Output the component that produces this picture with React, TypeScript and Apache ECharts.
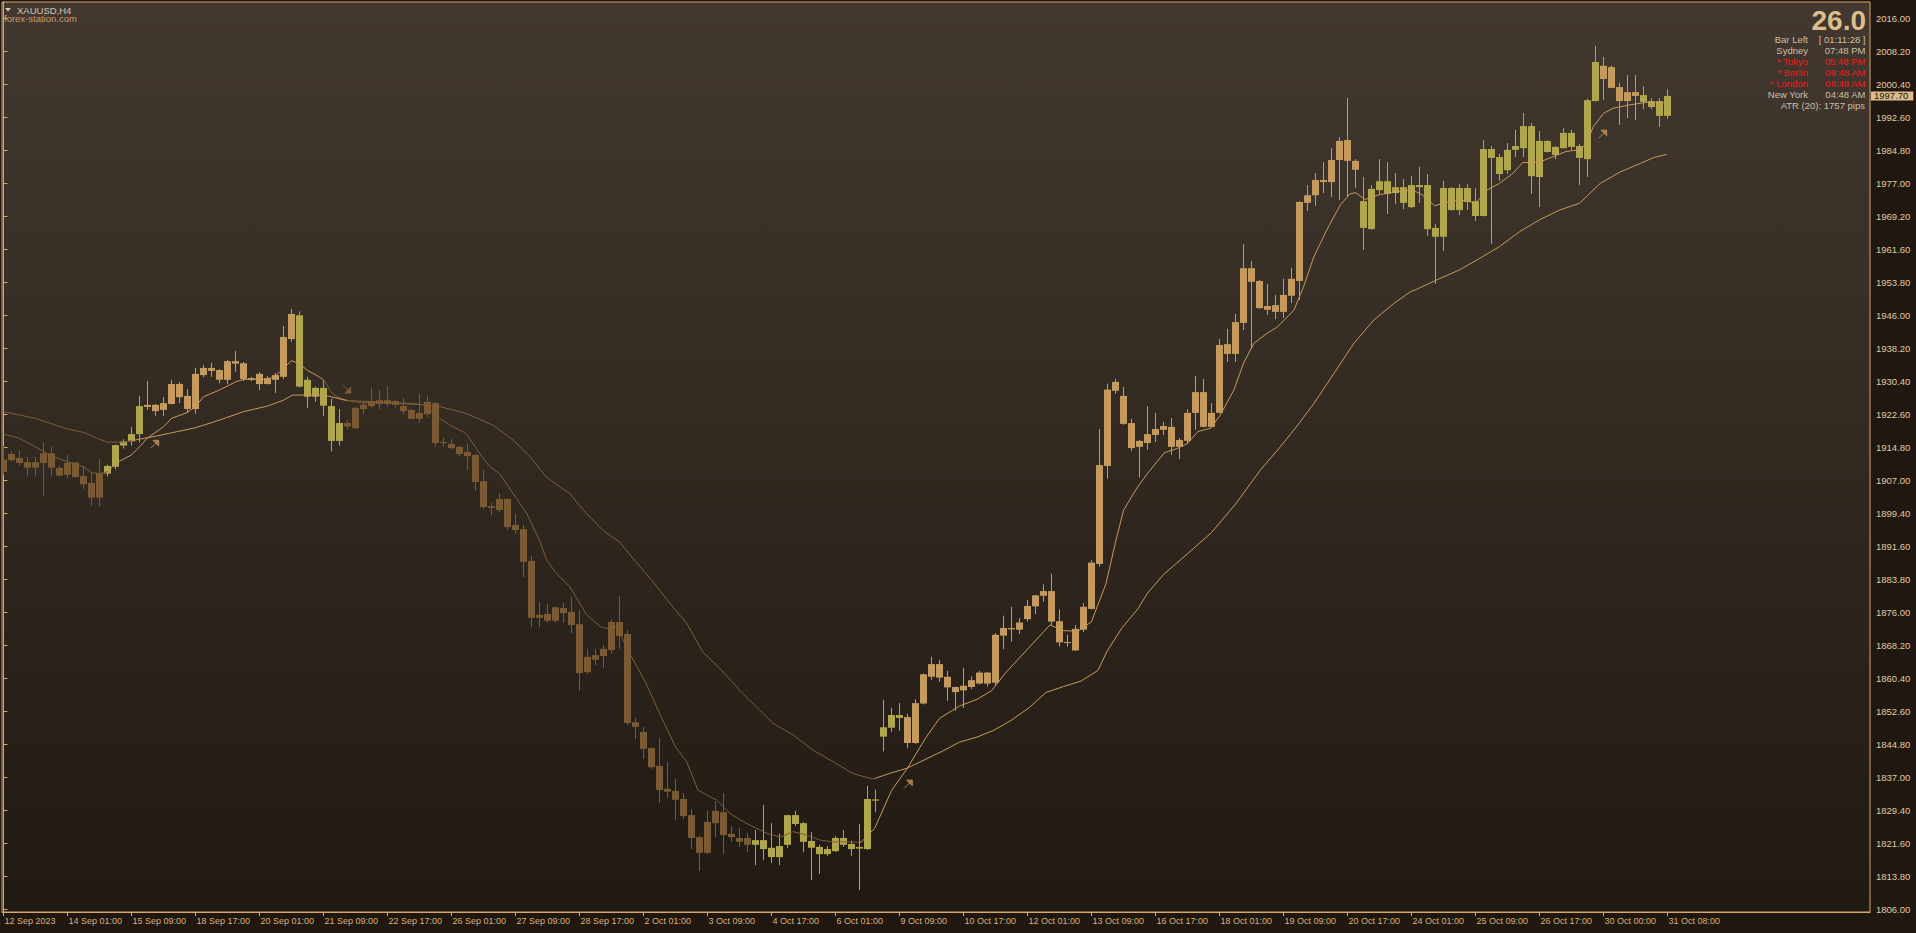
import React, { useEffect, useRef } from "react";
import * as echarts from "echarts";

// ---------- data ----------
const xLabels = [
  "12 Sep 2023", "14 Sep 01:00", "15 Sep 09:00", "18 Sep 17:00", "20 Sep 01:00", "21 Sep 09:00",
  "22 Sep 17:00", "26 Sep 01:00", "27 Sep 09:00", "28 Sep 17:00", "2 Oct 01:00", "3 Oct 09:00",
  "4 Oct 17:00", "6 Oct 01:00", "9 Oct 09:00", "10 Oct 17:00", "12 Oct 01:00", "13 Oct 09:00",
  "16 Oct 17:00", "18 Oct 01:00", "19 Oct 09:00", "20 Oct 17:00", "24 Oct 01:00", "25 Oct 09:00",
  "26 Oct 17:00", "30 Oct 00:00", "31 Oct 08:00",
];
const barsPerLabel = 8;

const yLabels = [
  "1806.00", "1813.80", "1821.60", "1829.40", "1837.00", "1844.80", "1852.60", "1860.40",
  "1868.20", "1876.00", "1883.80", "1891.60", "1899.40", "1907.00", "1914.80", "1922.60",
  "1930.40", "1938.20", "1946.00", "1953.80", "1961.60", "1969.20", "1977.00", "1984.80",
  "1992.60", "2000.40", "2008.20", "2016.00",
];
const yLow = 1806;
const yHigh = 2016;

// [open, high, low, close]
const candles: number[][] = [
  [1912.0, 1915.2, 1908.4, 1909.1], [1911.9, 1913.9, 1911.6, 1913.3], [1912.4, 1914.1, 1910.5, 1911.2],
  [1911.4, 1912.6, 1908.2, 1910.1], [1910.1, 1912.6, 1908.2, 1911.4], [1911.2, 1916.0, 1903.3, 1913.5],
  [1913.5, 1915.0, 1908.2, 1910.1], [1910.0, 1910.5, 1908.0, 1908.2], [1908.4, 1913.1, 1907.6, 1911.2],
  [1911.3, 1911.4, 1907.8, 1907.9], [1908.1, 1910.3, 1905.1, 1906.2], [1906.5, 1908.8, 1901.1, 1903.0],
  [1903.0, 1912.1, 1900.9, 1908.8], [1908.7, 1910.8, 1908.0, 1910.5], [1910.3, 1915.5, 1909.7, 1915.4],
  [1915.3, 1916.8, 1914.6, 1916.3], [1916.3, 1919.7, 1915.3, 1918.0], [1918.0, 1927.0, 1916.0, 1924.6],
  [1924.4, 1930.5, 1923.7, 1924.9], [1924.9, 1925.1, 1922.3, 1923.4], [1923.7, 1926.7, 1922.3, 1925.3],
  [1925.1, 1930.8, 1925.0, 1929.8], [1929.8, 1930.3, 1925.3, 1926.7], [1927.0, 1928.6, 1923.0, 1923.9],
  [1923.9, 1933.6, 1922.8, 1932.2], [1931.9, 1934.3, 1931.4, 1933.6], [1933.6, 1934.8, 1931.5, 1932.9],
  [1933.1, 1933.3, 1930.0, 1930.8], [1930.8, 1935.5, 1929.8, 1935.2], [1935.2, 1937.6, 1932.7, 1934.6],
  [1934.7, 1935.0, 1930.5, 1931.0], [1931.2, 1931.5, 1930.5, 1930.8], [1929.8, 1932.6, 1928.4, 1932.2],
  [1931.2, 1931.7, 1929.7, 1929.8], [1930.8, 1932.4, 1927.7, 1931.9], [1931.5, 1943.5, 1931.0, 1940.9],
  [1940.4, 1947.5, 1939.8, 1946.3], [1946.0, 1946.9, 1929.0, 1929.2], [1930.8, 1931.5, 1924.1, 1926.8],
  [1926.8, 1929.2, 1925.6, 1928.9], [1928.9, 1930.8, 1922.3, 1924.7], [1924.6, 1926.3, 1913.9, 1916.4],
  [1916.4, 1923.9, 1915.3, 1920.6], [1920.6, 1921.3, 1919.2, 1919.8], [1919.4, 1924.3, 1919.2, 1924.2],
  [1923.9, 1925.6, 1922.6, 1924.9], [1924.6, 1928.9, 1924.2, 1925.7], [1925.1, 1928.4, 1923.9, 1926.0],
  [1926.0, 1929.3, 1924.5, 1925.1], [1925.8, 1926.0, 1924.2, 1924.9], [1924.6, 1926.5, 1922.7, 1923.4],
  [1923.7, 1923.9, 1921.5, 1921.6], [1921.6, 1927.5, 1920.6, 1923.0], [1922.7, 1927.0, 1922.0, 1925.6],
  [1925.3, 1925.6, 1915.0, 1915.9], [1916.0, 1917.3, 1915.0, 1916.1], [1915.7, 1916.8, 1914.3, 1914.7],
  [1915.0, 1915.2, 1912.8, 1913.3], [1913.8, 1915.7, 1909.5, 1912.8], [1913.1, 1913.3, 1904.6, 1906.7],
  [1906.9, 1909.5, 1900.4, 1900.8], [1900.6, 1901.8, 1898.9, 1901.0], [1900.1, 1904.1, 1899.6, 1902.7],
  [1902.7, 1902.8, 1895.4, 1896.1], [1896.6, 1899.2, 1894.5, 1895.4], [1895.6, 1896.6, 1884.3, 1887.9],
  [1888.1, 1889.3, 1872.5, 1874.7], [1874.7, 1878.4, 1872.5, 1875.4], [1875.6, 1878.0, 1873.5, 1874.0],
  [1874.0, 1877.3, 1873.5, 1877.2], [1877.0, 1878.2, 1873.5, 1875.8], [1876.1, 1879.6, 1871.1, 1873.0],
  [1873.2, 1876.5, 1857.5, 1861.7], [1861.9, 1867.4, 1861.5, 1865.5], [1865.9, 1867.4, 1863.6, 1864.8],
  [1865.7, 1868.3, 1862.9, 1867.4], [1867.1, 1874.2, 1866.2, 1873.7], [1873.7, 1879.8, 1867.4, 1870.4],
  [1870.9, 1871.8, 1849.4, 1849.9], [1850.1, 1851.1, 1846.1, 1849.0], [1847.8, 1849.0, 1841.4, 1843.8],
  [1844.0, 1844.1, 1839.1, 1839.5], [1839.8, 1846.4, 1831.1, 1834.1], [1834.4, 1840.7, 1832.2, 1833.7],
  [1833.9, 1836.7, 1827.1, 1831.8], [1832.0, 1833.4, 1827.3, 1828.0], [1828.2, 1829.6, 1820.2, 1822.8],
  [1823.0, 1823.3, 1815.0, 1819.3], [1819.3, 1829.2, 1819.0, 1826.6], [1826.3, 1831.5, 1823.0, 1829.2],
  [1828.9, 1833.4, 1819.0, 1823.5], [1823.8, 1825.6, 1821.9, 1823.0], [1822.8, 1825.2, 1820.7, 1821.9],
  [1821.2, 1824.0, 1819.5, 1822.8], [1822.3, 1824.7, 1816.4, 1821.2], [1820.2, 1830.6, 1817.6, 1822.3],
  [1820.5, 1826.3, 1816.9, 1818.3], [1818.3, 1823.8, 1816.4, 1820.9], [1821.2, 1828.3, 1820.5, 1828.2],
  [1828.2, 1829.2, 1825.6, 1826.1], [1826.3, 1826.6, 1819.5, 1821.9], [1822.1, 1824.2, 1812.9, 1820.5],
  [1820.7, 1821.2, 1814.3, 1819.0], [1819.0, 1820.9, 1818.6, 1820.2], [1819.7, 1823.3, 1819.5, 1822.8],
  [1822.8, 1824.7, 1820.7, 1821.2], [1821.4, 1822.2, 1818.6, 1820.2], [1820.3, 1826.1, 1810.5, 1820.7],
  [1820.2, 1835.1, 1820.0, 1832.0], [1831.9, 1834.2, 1828.9, 1831.6], [1846.7, 1855.4, 1843.2, 1848.9],
  [1848.8, 1853.5, 1847.8, 1851.8], [1851.8, 1854.6, 1848.1, 1851.1], [1851.3, 1852.1, 1844.0, 1845.2],
  [1845.2, 1855.5, 1845.0, 1854.6], [1854.5, 1861.6, 1854.3, 1861.4], [1860.8, 1865.5, 1860.1, 1863.8],
  [1863.8, 1864.8, 1859.6, 1860.6], [1860.8, 1862.2, 1855.1, 1858.3], [1858.4, 1858.5, 1852.8, 1857.2],
  [1857.6, 1862.9, 1853.4, 1858.7], [1858.4, 1860.9, 1857.9, 1860.0], [1859.2, 1862.2, 1859.0, 1861.8],
  [1861.8, 1861.9, 1858.5, 1859.2], [1859.4, 1871.1, 1858.8, 1870.7], [1870.5, 1875.2, 1867.3, 1872.3],
  [1872.3, 1877.3, 1869.1, 1872.0], [1871.9, 1874.6, 1870.9, 1873.6], [1874.4, 1878.9, 1873.8, 1877.5],
  [1877.4, 1880.1, 1875.6, 1880.0], [1879.9, 1882.6, 1878.5, 1881.0], [1881.0, 1885.1, 1873.0, 1873.8],
  [1873.9, 1876.7, 1867.9, 1868.9], [1868.9, 1870.7, 1867.9, 1869.0], [1867.0, 1873.0, 1867.0, 1872.1],
  [1871.9, 1878.2, 1871.3, 1877.3], [1876.8, 1888.3, 1876.7, 1887.7], [1887.4, 1919.2, 1886.8, 1910.7],
  [1910.5, 1929.9, 1907.5, 1928.5], [1928.2, 1931.0, 1927.5, 1930.3], [1927.0, 1929.1, 1920.2, 1920.4],
  [1920.6, 1921.6, 1914.0, 1914.7], [1915.0, 1916.6, 1907.8, 1916.4], [1915.9, 1924.6, 1914.3, 1918.0],
  [1917.8, 1923.0, 1916.1, 1919.2], [1919.0, 1920.9, 1917.8, 1919.9], [1919.7, 1921.8, 1913.1, 1915.0],
  [1915.0, 1917.1, 1912.1, 1916.6], [1916.4, 1923.9, 1915.7, 1923.0], [1923.0, 1931.7, 1919.0, 1927.9],
  [1927.9, 1931.0, 1919.6, 1919.7], [1919.7, 1925.3, 1919.6, 1923.0], [1923.0, 1940.4, 1922.9, 1939.0],
  [1939.2, 1942.8, 1935.0, 1936.9], [1936.9, 1946.3, 1935.0, 1944.4], [1944.2, 1962.8, 1942.5, 1957.1],
  [1957.1, 1958.8, 1938.1, 1953.9], [1954.1, 1954.3, 1947.5, 1947.7], [1947.3, 1953.4, 1946.1, 1948.2],
  [1948.4, 1950.8, 1945.1, 1946.8], [1946.8, 1954.6, 1945.4, 1950.8], [1950.6, 1957.2, 1948.9, 1954.6],
  [1954.1, 1972.9, 1949.6, 1972.7], [1972.5, 1976.7, 1970.6, 1974.3], [1974.3, 1979.5, 1971.8, 1977.9],
  [1977.9, 1982.1, 1974.8, 1977.4], [1977.4, 1985.4, 1973.9, 1982.6], [1982.6, 1988.0, 1973.2, 1987.1],
  [1987.3, 1997.2, 1974.1, 1982.4], [1982.4, 1982.8, 1976.0, 1980.3], [1972.9, 1978.6, 1961.4, 1966.6],
  [1966.3, 1976.7, 1966.2, 1975.8], [1975.5, 1982.8, 1974.6, 1977.6], [1977.6, 1982.1, 1969.9, 1974.6],
  [1974.8, 1979.5, 1972.2, 1976.2], [1976.2, 1978.1, 1971.0, 1972.5], [1971.5, 1978.8, 1971.3, 1976.7],
  [1976.7, 1981.0, 1972.5, 1976.2], [1976.7, 1979.3, 1964.7, 1966.3], [1966.6, 1967.5, 1953.4, 1964.5],
  [1964.5, 1977.7, 1961.2, 1976.0], [1976.0, 1976.2, 1970.7, 1970.8], [1970.8, 1976.9, 1969.6, 1976.0],
  [1976.0, 1976.9, 1970.8, 1972.7], [1972.9, 1976.0, 1968.2, 1969.4], [1969.4, 1987.3, 1969.3, 1985.2],
  [1985.2, 1985.9, 1962.8, 1983.1], [1983.3, 1984.0, 1977.7, 1979.3], [1980.2, 1986.6, 1979.3, 1985.0],
  [1985.0, 1989.7, 1983.3, 1985.9], [1985.4, 1993.7, 1983.3, 1990.6], [1990.6, 1991.3, 1974.6, 1978.8],
  [1978.6, 1989.4, 1971.5, 1987.1], [1987.1, 1987.2, 1984.4, 1984.5], [1983.8, 1985.8, 1982.8, 1985.7],
  [1985.4, 1990.1, 1985.3, 1989.0], [1989.0, 1989.7, 1985.0, 1985.7], [1985.9, 1986.4, 1976.7, 1983.1],
  [1982.8, 1997.0, 1978.6, 1996.7], [1996.5, 2009.5, 1996.4, 2005.7], [2004.8, 2006.9, 1996.7, 2001.7],
  [2004.5, 2004.8, 1999.5, 1999.6], [1999.8, 2000.8, 1990.9, 1996.5], [1996.5, 2002.6, 1992.5, 1998.6],
  [1998.6, 2002.6, 1992.0, 1997.7], [1997.9, 2000.0, 1994.6, 1996.3], [1996.5, 1997.2, 1994.6, 1995.1],
  [1996.5, 1997.2, 1990.4, 1993.0], [1993.0, 1999.3, 1992.3, 1997.7],
];

// trend state runs: D = down (brown), N = neutral (olive), U = up (tan)
const trendRuns: [string, number][] = [
  ["D", 13], ["N", 5], ["U", 19], ["N", 6], ["D", 51], ["N", 19], ["U", 57], ["N", 30], ["U", 5], ["N", 4],
];

// moving averages: [bar index, price]
const fastMA: number[][] = [
  [0, 1918.0], [2, 1917.0], [4, 1915.0], [6, 1912.8], [8, 1911.5], [10, 1910.3], [11, 1908.9], [12, 1908.7],
  [13, 1909.1], [14, 1911.1], [16, 1913.1], [17, 1915.0], [18, 1917.1], [20, 1919.7], [21, 1921.7],
  [23, 1923.1], [24, 1924.5], [25, 1926.8], [27, 1928.4], [29, 1930.3], [30, 1930.9], [33, 1930.9],
  [34, 1931.7], [35, 1933.5], [36, 1935.3], [37, 1934.6], [38, 1933.0], [39, 1932.0], [40.1, 1930.7],
  [40.9, 1928.0], [41.7, 1926.8], [42.9, 1926.0],
  [44.6, 1925.4], [47, 1925.4], [50.4, 1925.1], [52.7, 1924.9], [54.5, 1921.7], [56.2, 1919.7],
  [57.8, 1918.2], [59.5, 1913.5], [60.8, 1910.3], [62, 1908.7], [63.7, 1904.0], [65.4, 1899.3],
  [67, 1893.0], [67.9, 1888.3], [69.1, 1885.2], [70.8, 1882.0], [72.9, 1875.4], [74.6, 1872.6],
  [75.4, 1872.2], [76.6, 1872.6], [78.4, 1865.9], [80.3, 1859.3], [82, 1852.2], [84, 1844.3],
  [85.4, 1840.8], [86.8, 1834.1], [87.9, 1832.9], [89.1, 1831.8], [90.8, 1828.6], [92.8, 1826.3],
  [95.4, 1823.9], [97.1, 1823.0], [98.7, 1824.3], [100.4, 1823.5], [102.1, 1822.3], [103.7, 1821.9],
  [105.8, 1821.9], [107.2, 1821.8], [108.9, 1825.1], [111, 1834.0], [113, 1839.3], [115.2, 1846.2],
  [117, 1851.0], [119.5, 1853.9], [121.7, 1855.5], [123.5, 1857.5], [125.2, 1861.6], [127.8, 1866.9],
  [130.8, 1873.0], [132.5, 1871.7], [134.3, 1871.5], [136, 1873.8], [137.8, 1882.7], [139.1, 1893.3],
  [140, 1900.0], [141, 1903.2], [142, 1906.2], [143.2, 1909.2], [145.1, 1913.6], [146.7, 1914.6], [148, 1915.8],
  [149.3, 1918.6], [150.9, 1919.4], [152.1, 1922.5], [153.8, 1928.4], [155, 1934.7], [156.3, 1939.4],
  [157.9, 1941.7], [159.2, 1943.2], [161.3, 1947.2], [162.5, 1952.7], [163.8, 1959.8], [165.4, 1966.1],
  [167.1, 1972.0], [168.3, 1974.6], [169, 1974.9], [170.2, 1973.3], [171.7, 1974.3], [173.8, 1975.1],
  [175.9, 1975.5], [176.6, 1975.1], [177.4, 1974.3], [178.9, 1971.8], [179.9, 1972.4], [182, 1973.2],
  [184.1, 1972.5], [185.4, 1975.5], [187, 1977.1], [188.7, 1979.5], [189.9, 1982.0], [191.2, 1982.0],
  [192.4, 1982.4], [193.7, 1983.4], [195.3, 1984.6], [197, 1985.0], [197.9, 1986.5], [198.7, 1990.4],
  [200, 1993.6], [201.2, 1994.8], [203.3, 1995.6], [205.4, 1996.2], [207.5, 1996.1], [208, 1996.1],
];

const slowMA: number[][] = [
  [0, 1923.3], [4, 1921.7], [8, 1919.2], [10, 1918.4], [12, 1916.8], [13, 1916.1], [15, 1916.1],
  [17, 1916.8], [19, 1917.5], [21, 1918.3], [24, 1919.5], [27, 1921.3], [30, 1923.3], [33, 1924.6],
  [35, 1926.0], [36.1, 1927.2], [40.1, 1927.2], [42.9, 1925.9], [47, 1925.6], [51.2, 1925.2],
  [54.5, 1924.5], [57.8, 1922.9], [61.2, 1920.1], [63.7, 1916.6], [65.8, 1912.7], [67.8, 1908.0],
  [69.5, 1905.6], [70.8, 1904.0], [72.5, 1900.0], [75, 1895.2], [77, 1892.6], [79, 1888.0],
  [81, 1883.6], [83.3, 1878.1], [85.4, 1873.4], [87.4, 1866.7],
  [89.5, 1862.8], [92.4, 1856.9], [94.5, 1853.0], [96.2, 1849.8], [98.7, 1847.1], [101.2, 1843.5],
  [103.7, 1840.8], [105.8, 1838.4], [106.7, 1837.7], [108.7, 1836.7], [110.9, 1838.1], [113, 1839.3],
  [115.2, 1841.3], [117.4, 1843.3], [119.5, 1845.4], [121.7, 1846.6], [123.8, 1848.2], [126, 1850.6],
  [128.2, 1853.5], [130.3, 1857.1], [132.5, 1858.5], [134.7, 1859.8], [136.8, 1862.3], [138, 1867.0],
  [139.8, 1872.3], [141.8, 1876.8], [143, 1880.5], [145, 1884.9], [148, 1889.8], [151, 1894.8],
  [154, 1901.5], [157.1, 1909.5],
  [159.6, 1915.0], [161.6, 1919.7], [163.8, 1925.2], [166.3, 1932.3], [168.8, 1939.4], [171.3, 1944.9],
  [173.8, 1948.8], [175.9, 1951.6], [176.6, 1952.1], [179.1, 1954.3], [182, 1956.7], [184.5, 1959.4],
  [187, 1962.2], [189.5, 1965.7], [192, 1968.5], [194.5, 1970.8], [197, 1972.4], [199.6, 1977.1],
  [202.1, 1979.8], [204.6, 1981.8], [206.3, 1983.2], [207.9, 1983.9],
];

// trend-change arrows: [bar index, price]
const arrowsUp: number[][] = [[18.9, 1915.6], [113.1, 1835.5], [199.9, 1988.7]];
const arrowsDown: number[][] = [[42.9, 1928.6]];

// colour breaks of the two averages (bar index where the colour flips)
const fastBreaks = [13, 40, 107];
const slowBreaks = [16, 43, 109];

const infoRows: [string, string, boolean][] = [
  ["Bar Left", "[ 01:11:28 ]", false],
  ["Sydney", "07:48 PM", false],
  ["* Tokyo", "05:48 PM", true],
  ["* Berlin", "09:48 AM", true],
  ["* London", "08:48 AM", true],
  ["New York", "04:48 AM", false],
];
const bigValue = "26.0";
const atrText = "ATR (20): 1757 pips";
const symbolTitle = "XAUUSD,H4";
const siteTitle = "forex-station.com";

// ---------- style ----------
const FONT = "'Liberation Sans', Arial, sans-serif";
const C_DOWN = "#7a5a32";
const C_NEUT = "#b0a64c";
const C_UP = "#c49a5e";
const C_MA_DOWN = "#7d5c36";
const C_MA_UP = "#c8995c";
const FRAME = "#d6a76a";
const LABEL_Y = "#e2c9a0";
const LABEL_X = "#dcb07a";

function piecesFrom(breaks: number[]) {
  const cols = [C_MA_DOWN, C_MA_UP];
  const pieces: any[] = [];
  let prev: number | null = null;
  breaks.forEach((b, k) => {
    const p: any = { lt: b, color: cols[k % 2] };
    if (prev !== null) p.gte = prev;
    pieces.push(p);
    prev = b;
  });
  pieces.push({ gte: prev, color: cols[breaks.length % 2] });
  return pieces;
}

export default function App() {
  const ref = useRef<HTMLDivElement>(null);

  useEffect(() => {
    if (!ref.current) return;
    const chart = echarts.init(ref.current, null, { renderer: "svg" });

    const trend: string[] = [];
    trendRuns.forEach(([t, n]) => {
      for (let k = 0; k < n; k++) trend.push(t);
    });
    const colorOf: Record<string, string> = { D: C_DOWN, N: C_NEUT, U: C_UP };

    const gridLeft = 2;
    const gridTop = 2;
    const gridRight = 46;
    const gridBottom = 21;
    const barPx = 8;
    const plotW = 1916 - gridLeft - gridRight;
    const firstCenter = 3.5;
    const xMin = (gridLeft - firstCenter) / barPx;
    const xMax = xMin + plotW / barPx;

    const pxPerUnit = (33 * 27) / (yHigh - yLow);
    const yTick0 = 909.3;
    const yMax = yLow + (yTick0 - gridTop) / pxPerUnit;
    const yMin = yLow - (933 - gridBottom - yTick0) / pxPerUnit;
    const yStep = (yHigh - yLow) / (yLabels.length - 1);
    const yTickValues = yLabels.map((_, k) => yLow + k * yStep);
    const xTickValues = xLabels.map((_, k) => k * barsPerLabel);

    const lastIndex = candles.length - 1;
    const lastClose = candles[lastIndex][3];

    const graphics: any[] = [
      { type: "polygon", shape: { points: [[5, 8], [11, 8], [8, 11.5]] }, style: { fill: "#e2c8a0" } },
      {
        type: "text", x: 17, y: 10,
        style: { text: symbolTitle, fill: "#d4c6b0", fontSize: 9.5, fontFamily: FONT, verticalAlign: "middle" },
      },
      {
        type: "text", x: 4, y: 18.5,
        style: { text: siteTitle, fill: "#c99b68", fontSize: 9.5, fontFamily: FONT, verticalAlign: "middle" },
      },
      {
        type: "text", x: 1866, y: 20.5,
        style: {
          text: bigValue, fill: "#dcbd8c", fontSize: 28, fontWeight: "bold", fontFamily: FONT,
          align: "right", verticalAlign: "middle",
        },
      },
    ];
    infoRows.forEach(([a, b, red], k) => {
      const y = 39 + k * 11;
      const fill = red ? "#f01c1c" : "#cdbfa8";
      graphics.push({
        type: "text", x: 1808, y,
        style: { text: a, fill, fontSize: 9.5, fontFamily: FONT, align: "right", verticalAlign: "middle" },
      });
      graphics.push({
        type: "text", x: 1865.5, y,
        style: { text: b, fill, fontSize: 9.5, fontFamily: FONT, align: "right", verticalAlign: "middle" },
      });
    });
    graphics.push({
      type: "text", x: 1865, y: 39 + infoRows.length * 11,
      style: { text: atrText, fill: "#cdbfa8", fontSize: 9.5, fontFamily: FONT, align: "right", verticalAlign: "middle" },
    });

    const option: any = {
      animation: false,
      backgroundColor: "#1f1710",
      grid: {
        left: gridLeft, top: gridTop, right: gridRight, bottom: gridBottom,
        show: true, borderColor: FRAME, borderWidth: 1,
        backgroundColor: new echarts.graphic.LinearGradient(0, 0, 0, 1, [
          { offset: 0, color: "#42382f" },
          { offset: 1, color: "#211a12" },
        ]),
      },
      xAxis: {
        type: "value", min: xMin, max: xMax,
        splitLine: { show: false },
        axisLine: { show: true, lineStyle: { color: FRAME, width: 1 } },
        axisTick: { show: true, length: 4, lineStyle: { color: FRAME }, customValues: xTickValues },
        axisLabel: {
          show: true, customValues: xTickValues, color: LABEL_X, fontSize: 9, fontFamily: FONT,
          align: "left", margin: 4, padding: [0, 0, 0, 1],
          formatter: (v: number) => xLabels[Math.round(v / barsPerLabel)] ?? "",
        },
      },
      yAxis: {
        type: "value", position: "right", min: yMin, max: yMax, scale: true,
        splitLine: { show: false },
        axisLine: { show: true, lineStyle: { color: FRAME, width: 1 } },
        axisTick: { show: true, length: 4, lineStyle: { color: FRAME }, customValues: yTickValues },
        axisLabel: {
          show: true, customValues: yTickValues, color: LABEL_Y, fontSize: 9.5, fontFamily: FONT, margin: 6,
          formatter: (v: number) => yLabels[Math.round((v - yLow) / yStep)] ?? "",
        },
      },
      visualMap: [
        { type: "piecewise", show: false, dimension: 0, seriesIndex: 1, pieces: piecesFrom(fastBreaks) },
        { type: "piecewise", show: false, dimension: 0, seriesIndex: 2, pieces: piecesFrom(slowBreaks) },
      ],
      graphic: graphics,
      series: [
        {
          type: "custom",
          clip: true,
          z: 3,
          data: candles.map((d, i) => [i, d[0], d[1], d[2], d[3]]),
          encode: { x: 0, y: [1, 2, 3, 4] },
          renderItem: (params: any, api: any) => {
            const i = api.value(0);
            const o = api.value(1), h = api.value(2), l = api.value(3), c = api.value(4);
            const pO = api.coord([i, o]);
            const pC = api.coord([i, c]);
            const pH = api.coord([i, h]);
            const pL = api.coord([i, l]);
            const x = pO[0];
            const top = Math.min(pO[1], pC[1]);
            const hgt = Math.max(1, Math.abs(pO[1] - pC[1]));
            const color = colorOf[trend[i]] || C_NEUT;
            return {
              type: "group",
              children: [
                { type: "line", shape: { x1: x, y1: pH[1], x2: x, y2: pL[1] }, style: { stroke: color, lineWidth: 1 } },
                { type: "rect", shape: { x: x - 3.5, y: top, width: 7, height: hgt }, style: { fill: color } },
              ],
            };
          },
        },
        {
          type: "line", data: fastMA, showSymbol: false, symbol: "none", z: 4,
          lineStyle: { width: 1 }, silent: true,
        },
        {
          type: "line", data: slowMA, showSymbol: false, symbol: "none", z: 4,
          lineStyle: { width: 1 }, silent: true,
        },
        {
          type: "scatter", data: arrowsUp, z: 5, silent: true,
          symbol: "path://M1,9 L8,2 M3,2 L8,2 L8,7 Z", symbolSize: 8,
          itemStyle: { color: "#b8844e", borderColor: "#c8945c", borderWidth: 1 },
        },
        {
          type: "scatter", data: arrowsDown, z: 5, silent: true,
          symbol: "path://M1,1 L8,8 M8,3 L8,8 L3,8 Z", symbolSize: 8,
          itemStyle: { color: "#7a5a34", borderColor: "#8a6a40", borderWidth: 1 },
        },
        {
          type: "line", data: [[lastIndex, lastClose]], showSymbol: false, symbol: "none",
          lineStyle: { opacity: 0 }, clip: false, z: 10, silent: true,
          markLine: {
            silent: true, symbol: "none", animation: false,
            lineStyle: { color: "rgba(0,0,0,0)", width: 0, opacity: 1 },
            data: [{ yAxis: lastClose }],
            label: {
              show: true, position: "end", distance: 1, opacity: 1,
              formatter: () => lastClose.toFixed(2),
              backgroundColor: "#dcbc8c", color: "#1a120a", fontSize: 9.5, fontFamily: FONT,
              lineHeight: 9, padding: [0, 5, 0, 3],
            },
          },
        },
      ],
    };

    chart.setOption(option);
    return () => chart.dispose();
  }, []);

  return (
    <div
      ref={ref}
      style={{ position: "fixed", left: 0, top: 0, width: 1916, height: 933, background: "#1f1710" }}
    />
  );
}
